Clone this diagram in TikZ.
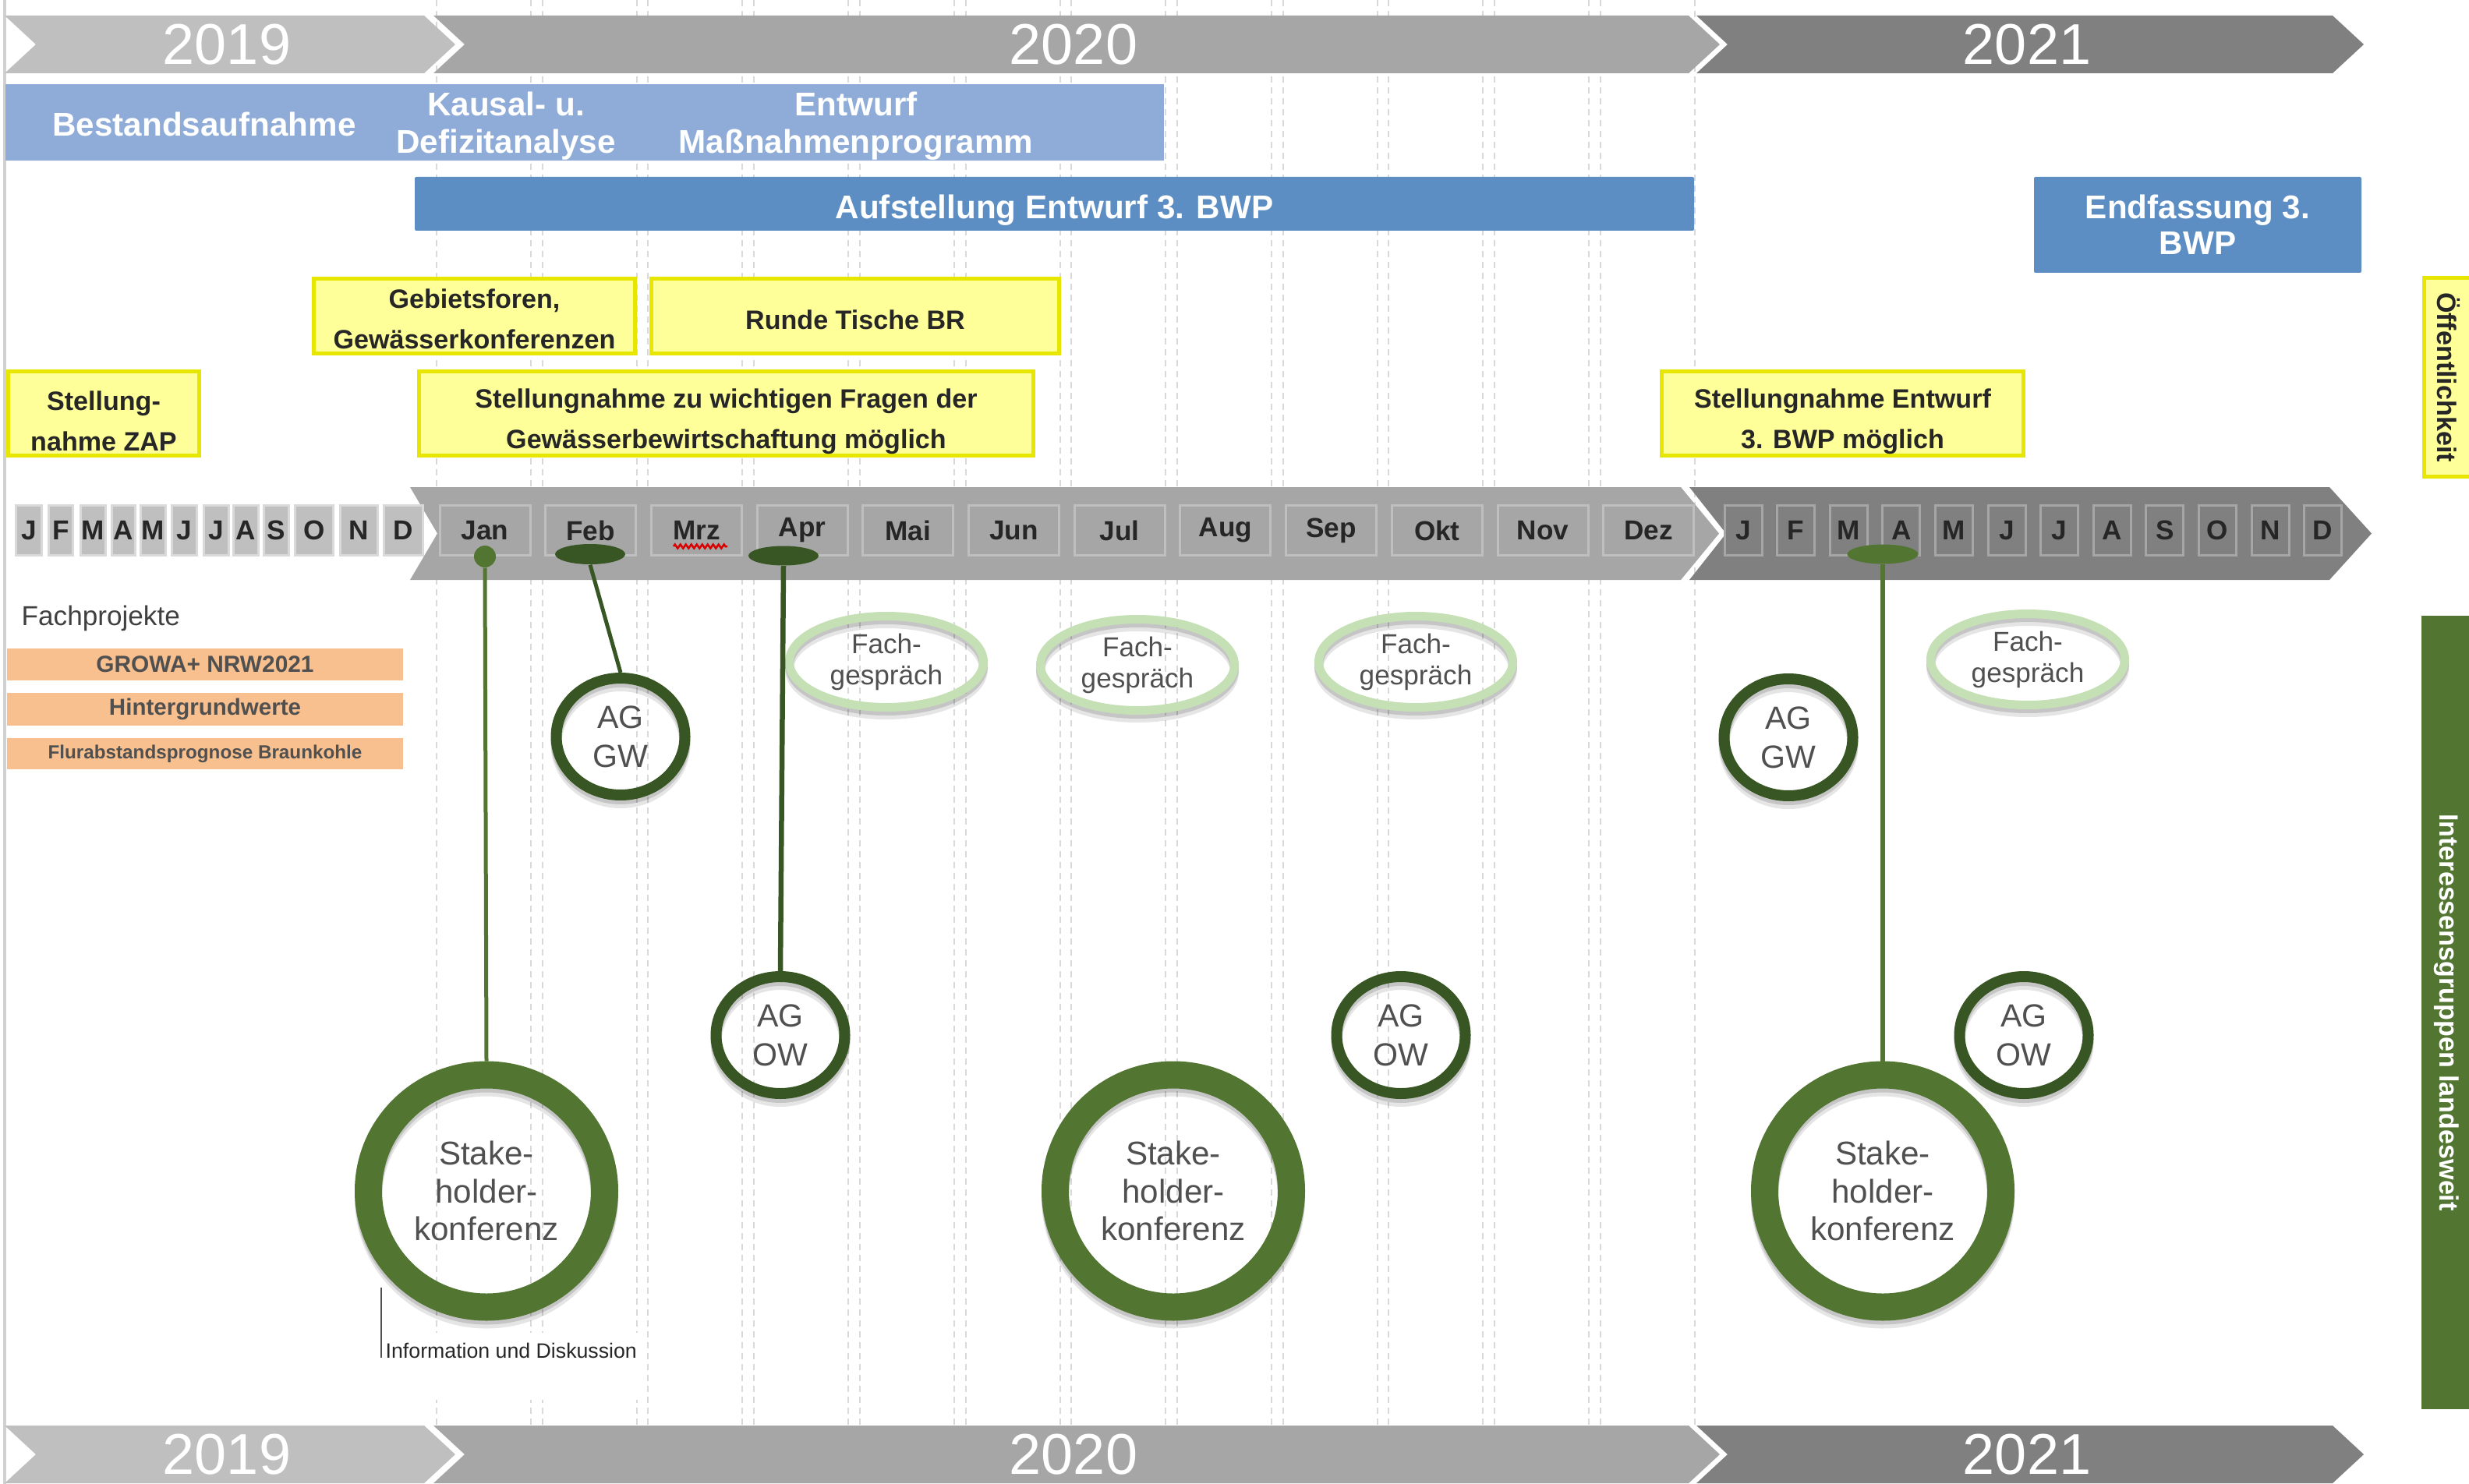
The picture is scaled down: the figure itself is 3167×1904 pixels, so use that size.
\documentclass[tikz,border=0pt]{standalone}
\usepackage{fontspec}
\setmainfont{Liberation Sans}
\usetikzlibrary{shapes.geometric,positioning,decorations.pathmorphing}

\definecolor{yrA}{RGB}{191,191,191}
\definecolor{yrB}{RGB}{166,166,166}
\definecolor{yrC}{RGB}{128,128,128}
\definecolor{blauHell}{RGB}{143,172,216}
\definecolor{blauDunkel}{RGB}{92,142,196}
\definecolor{gelb}{RGB}{255,255,153}
\definecolor{gelbRand}{RGB}{230,230,0}
\definecolor{fpOrange}{RGB}{248,192,142}
\definecolor{gruen}{RGB}{82,118,50}
\definecolor{dunkelgruen}{RGB}{55,86,35}
\definecolor{hellgruen}{RGB}{197,224,180}
\definecolor{schrift}{RGB}{38,38,38}
\definecolor{ringtext}{RGB}{80,80,80}
\definecolor{gitter}{RGB}{217,217,217}

\tikzset{
  gitterlinie/.style={gitter,line width=0.2mm,dash pattern=on 0.8mm off 0.6mm},
  jahr/.style={text=white,font=\fontsize{21}{24}\selectfont},
  monat/.style={draw,line width=0.3mm,inner sep=0pt,minimum height=6.4mm,text=schrift,font=\fontsize{10}{12}\selectfont\bfseries},
  phase/.style={text=white,align=center,font=\fontsize{12}{13.7}\selectfont\bfseries},
  bwp/.style={fill=blauDunkel,rounded corners=0.2mm,text=white,align=center,font=\fontsize{12}{13.1}\selectfont\bfseries},
  gelbbox/.style={draw=gelbRand,fill=gelb,line width=0.5mm,inner sep=0pt,text=schrift,align=center,font=\fontsize{9.7}{14.8}\selectfont\bfseries},
  projekt/.style={fill=fpOrange,inner sep=0pt,minimum width=50.8mm,text={rgb,255:red,80;green,80;blue,80},font=\bfseries},
  schatten/.style={preaction={draw=black,draw opacity=0.10,transform canvas={yshift=-1.0mm}},
                   preaction={draw=black,draw opacity=0.14,transform canvas={yshift=-0.5mm}}},
  ring/.style={ellipse,inner sep=0pt,align=center,text=ringtext,schatten},
  stake/.style={ring,draw=gruen,line width=3.5mm,minimum width=30.3mm,minimum height=29.8mm,font=\fontsize{12}{13.7}\selectfont},
  ag/.style={ring,draw=dunkelgruen,line width=1.4mm,minimum width=16.5mm,minimum height=15mm,font=\fontsize{11.7}{14.2}\selectfont},
  fach/.style={ring,draw=hellgruen,line width=1.1mm,minimum width=24.9mm,minimum height=11.7mm,font=\fontsize{10}{11.4}\selectfont},
  punkt/.style={ellipse,inner sep=0pt}
}

\begin{document}
\begin{tikzpicture}[x=0.1mm,y=-0.1mm]
\useasboundingbox (0,0) rectangle (3167,1904);

% Raster der Monate 2020
\foreach \n in {0,...,11}
  \draw[gitterlinie] ({560+\n*135.7},0) -- ++(0,1829) ({681+\n*135.7},0) -- ++(0,1829);
\draw[line width=0.4mm,black!18] (6,0) -- (6,1904);

% Jahresbaender oben und unten
\foreach \yo in {20,1829}
  \foreach \l/\r/\c/\t [count=\n] in {6/584/yrA/2019,556/2206/yrB/2020,2176/3032/yrC/2021} {
    \fill[\c] (\l,\yo) -- ({\r-40},\yo) -- (\r,{\yo+37}) -- ({\r-40},{\yo+74}) -- (\l,{\yo+74}) -- ({\l+40},{\yo+37}) -- cycle;
    \node[jahr] (Jahr\n-\yo) at ({(\l+\r)/2-4},{\yo+37}) {\t};
  }

% Phasen
\fill[blauHell] (7,108) rectangle (1493,206);
\node[phase] (best) at (262,159) {Bestandsaufnahme};
\node[phase] (kausal) at (649,162) {Kausal- u.\\Defizitanalyse};
\node[phase] (entw) at (1098,162) {Entwurf\\Maßnahmenprogramm};
\node[bwp,minimum width=164.1mm,minimum height=6.9mm,text height=3.8mm,text depth=0mm] (aufst) at (1352.5,261.5) {Aufstellung Entwurf 3. BWP};
\node[bwp,minimum width=42mm,minimum height=12.3mm] (endf) at (2819,288.5) {Endfassung 3.\\BWP};

% Beteiligung
\node[gelbbox,minimum width=41.2mm,minimum height=9.6mm] (gebiet) at (608.5,405.5) {\rule{0pt}{3.3mm}Gebietsforen,\\Gewässerkonferenzen};
\node[gelbbox,minimum width=52.3mm,minimum height=9.6mm,text height=3.5mm,text depth=0mm] (runde) at (1097,405.5) {Runde Tische BR};
\node[gelbbox,minimum width=24.5mm,minimum height=10.8mm] (zap) at (133,530.5) {\rule{0pt}{4.5mm}Stellung-\\nahme ZAP};
\node[gelbbox,minimum width=78.8mm,minimum height=10.8mm] (fragen) at (931.5,530.5) {\rule{0pt}{4.5mm}Stellungnahme zu wichtigen Fragen der\\Gewässerbewirtschaftung möglich};
\node[gelbbox,minimum width=46.4mm,minimum height=10.8mm] (stEntw) at (2363.5,530.5) {\rule{0pt}{4.5mm}Stellungnahme Entwurf\\3. BWP möglich};
\node[gelbbox,rotate=-90,minimum width=25.5mm,minimum height=6.3mm] (oeff) at (3141,484) {Öffentlichkeit};
\node[fill=gruen,rotate=-90,inner sep=0pt,minimum width=101.8mm,minimum height=6.5mm,text=white,font=\fontsize{9.7}{12}\selectfont\bfseries] (igrp) at (3138,1299) {Interessensgruppen landesweit};

% Monatsleiste
\fill[yrB] (526,625) -- (2156,625) -- (2205,684.5) -- (2156,744) -- (526,744) -- (561,684.5) -- cycle;
\fill[yrC] (2167,625) -- (2988,625) -- (3042,684.5) -- (2988,744) -- (2167,744) -- (2214,684.5) -- cycle;
\foreach \t/\l/\r [count=\n] in {J/19/55,F/61/95,M/102/137,A/142/175,M/179/214,J/219/254,J/260/295,A/298/333,S/337/372,O/377/429,N/435/486,D/491/544} {
  \pgfmathsetmacro\bw{(\r-\l-3)*0.1}
  \node[monat,fill=yrA,draw=gitter,minimum width=\bw mm] (A\n) at ({(\l+\r)/2},680.5) {\t};
}
\foreach \t [count=\n] in {Jan,Feb,Mrz,Apr,Mai,Jun,Jul,Aug,Sep,Okt,Nov,Dez}
  \node[monat,fill=yrB,draw=yrA,minimum width=11.6mm] (M\n) at ({622+(\n-1)*135.7},680.5) {\t};
\foreach \t [count=\n] in {J,F,M,A,M,J,J,A,S,O,N,D}
  \node[monat,fill=yrC,draw=yrB,minimum width=4.8mm] (C\n) at ({2236+(\n-1)*67.6},680.5) {\t};
\draw[red!85!black,line width=0.25mm,decorate,decoration={zigzag,segment length=0.7mm,amplitude=0.25mm}] (864,701) -- (933,701);

% Fachprojekte
\node[anchor=west,inner sep=0pt,text={rgb,255:red,64;green,64;blue,64},font=\fontsize{10}{12}\selectfont] (fp) at (27,793) {Fachprojekte};
\node[projekt,minimum height=4.1mm,font=\fontsize{8.5}{10}\selectfont\bfseries] (growa) at (263,852.5) {GROWA+ NRW2021};
\node[projekt,minimum height=4.2mm,font=\fontsize{8.4}{10}\selectfont\bfseries] (hgw) at (263,910) {Hintergrundwerte};
\node[projekt,minimum height=4.0mm,font=\fontsize{6.9}{8}\selectfont\bfseries] (flur) at (263,967) {Flurabstandsprognose Braunkohle};

% Termine
\node[punkt,fill=gruen,minimum width=2.8mm,minimum height=2.8mm] (d1) at (622,714) {};
\node[punkt,fill=dunkelgruen,minimum width=9mm,minimum height=2.6mm] (d2) at (757,711) {};
\node[punkt,fill=dunkelgruen,minimum width=9mm,minimum height=2.5mm] (d3) at (1005,713) {};
\node[punkt,fill=gruen,minimum width=9.1mm,minimum height=2.5mm] (d4) at (2415,711) {};

\node[stake] (sk1) at (624,1528) {Stake-\\holder-\\konferenz};
\node[stake] (sk2) at (1505,1528) {Stake-\\holder-\\konferenz};
\node[stake] (sk3) at (2415,1528) {Stake-\\holder-\\konferenz};

\node[ag] (gw1) at (796,945) {AG\\GW};
\node[ag] (gw2) at (2294,946) {AG\\GW};
\node[ag] (ow1) at (1001,1328) {AG\\OW};
\node[ag] (ow2) at (1797,1328) {AG\\OW};
\node[ag] (ow3) at (2596,1328) {AG\\OW};

\node[fach] (fg1) at (1137,849) {Fach-\\gespräch};
\node[fach] (fg2) at (1459,853) {Fach-\\gespräch};
\node[fach] (fg3) at (1816,849) {Fach-\\gespräch};
\node[fach] (fg4) at (2601,846) {Fach-\\gespräch};

\path[line width=0.5mm]
  (d1.south) edge[draw=gruen] (sk1.north)
  (d2.south) edge[draw=dunkelgruen] (gw1.north)
  (d3.south) edge[draw=dunkelgruen,line width=0.65mm] (ow1.north)
  (d4.south) edge[draw=gruen,line width=0.6mm] (sk3.north);

% Hinweis
\node[anchor=base west,fill=white,inner xsep=0.3mm,inner ysep=0pt,text height=3.2mm,text depth=5.4mm,text=schrift,font=\fontsize{7.6}{9}\selectfont] (info) at (491,1742) {Information und Diskussion};
\coordinate (infoTop) at (489,1652);
\draw[line width=0.2mm,ringtext] (infoTop) -- (infoTop |- info.base);
\end{tikzpicture}
\end{document}
